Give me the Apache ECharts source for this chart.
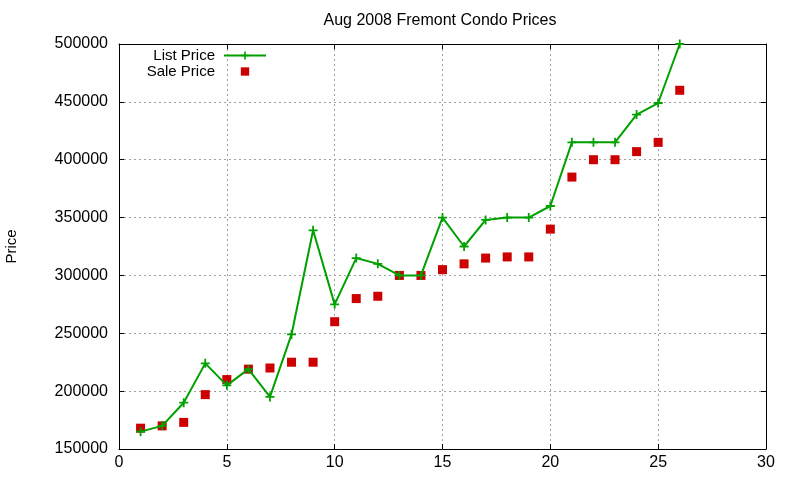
<!DOCTYPE html>
<html>
<head>
<meta charset="utf-8">
<script src="https://cdn.jsdelivr.net/npm/echarts@6/dist/echarts.min.js"></script>
<style>
html,body{margin:0;padding:0;background:#fff;}
#chart{width:800px;height:480px;}
</style>
</head>
<body>
<div id="chart"></div>
<script>
const days = [1,2,3,4,5,6,7,8,9,10,11,12,13,14,15,16,17,18,19,20,21,22,23,24,25,26];
const listPrice = [165000,170000,190000,224000,205000,219000,195000,249000,339000,275000,315000,310000,300000,300000,350000,325000,348000,350000,350000,360000,415000,415000,415000,439000,449000,500000];
const salePrice = [168000,170000,173000,197000,210000,219000,220000,225000,225000,260000,280000,282000,300000,300000,305000,310000,315000,316000,316000,340000,385000,400000,400000,407000,415000,460000];
const xTicks = {min: 0, max: 30, interval: 5};
const yTicks = {min: 150000, max: 500000, interval: 50000};

const FONT = '"Liberation Sans", Arial, sans-serif';
const GREEN = '#00a000';
const RED = '#cc0000';
const PLUS = 'path://M0,4H4V0H6V4H10V6H6V10H4V6H0Z';
const SQUARE = 'path://M-1,-1M11,11M0,0H10V10H0Z';

const chart = echarts.init(document.getElementById('chart'), null, {renderer: 'canvas'});
const axisLine = {show: true, onZero: false, lineStyle: {color: '#000', width: 1}};
const tick = {show: true, inside: true, length: 5, lineStyle: {color: '#000'}};
const grid = {show: true, lineStyle: {color: '#a0a0a0', type: [2, 3], width: 1}};

chart.setOption({
  animation: false,
  backgroundColor: '#fff',
  title: {
    text: 'Aug 2008 Fremont Condo Prices',
    left: 440, top: 13, padding: 0, textAlign: 'center',
    textStyle: {fontFamily: FONT, fontSize: 16, fontWeight: 'normal', color: '#000'}
  },
  legend: {
    orient: 'vertical', align: 'right', right: 533, top: 48, padding: 0,
    itemWidth: 42, itemHeight: 10, itemGap: 1,
    textStyle: {fontFamily: FONT, fontSize: 15, color: '#000', padding: [0, 4, 0, 0]},
    data: [
      {name: 'List Price'},
      {name: 'Sale Price', icon: SQUARE, itemStyle: {opacity: 1}}
    ]
  },
  grid: {left: 119, right: 34, top: 44, bottom: 31, containLabel: false, outerBoundsMode: 'none'},
  xAxis: [{
    type: 'value', min: xTicks.min, max: xTicks.max, interval: xTicks.interval,
    axisLine: axisLine, axisTick: tick,
    axisLabel: {fontFamily: FONT, fontSize: 16, color: '#000', margin: 6},
    splitLine: grid
  }, {
    type: 'value', position: 'top', min: xTicks.min, max: xTicks.max, interval: xTicks.interval,
    axisLine: axisLine, axisTick: tick, axisLabel: {show: false}, splitLine: {show: false}
  }],
  yAxis: [{
    type: 'value', min: yTicks.min, max: yTicks.max, interval: yTicks.interval,
    name: 'Price', nameLocation: 'middle', nameGap: 100, nameRotate: 90,
    nameTextStyle: {fontFamily: FONT, fontSize: 15, color: '#000'},
    axisLine: axisLine, axisTick: tick,
    axisLabel: {fontFamily: FONT, fontSize: 16, color: '#000', margin: 11, formatter: v => String(v)},
    splitLine: grid
  }, {
    type: 'value', position: 'right', min: yTicks.min, max: yTicks.max, interval: yTicks.interval,
    axisLine: axisLine, axisTick: tick, axisLabel: {show: false}, splitLine: {show: false}
  }],
  series: [{
    name: 'List Price', type: 'line',
    data: days.map((d, i) => [d, listPrice[i]]),
    symbol: PLUS, symbolSize: 9, showAllSymbol: true,
    lineStyle: {color: GREEN, width: 2},
    itemStyle: {color: GREEN}
  }, {
    name: 'Sale Price', type: 'scatter',
    data: days.map((d, i) => [d, salePrice[i]]),
    symbol: 'rect', symbolSize: 9,
    itemStyle: {color: RED, opacity: 1}
  }]
});
</script>
</body>
</html>
